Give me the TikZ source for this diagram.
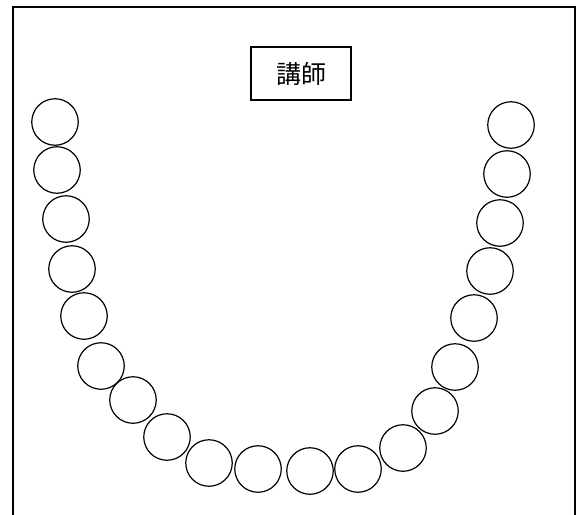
\documentclass[tikz,border=0pt]{standalone}
\usepackage{fontspec}
\newfontfamily\cjk{Noto Sans CJK JP}
\tikzset{
    seat/.style={circle, draw, line width=1.2pt, minimum size=46.5pt, inner sep=0pt},
    podium/.style={draw, line width=1.2pt, minimum width=100pt, minimum height=53pt, inner sep=0pt, font=\cjk\fontsize{25}{30}\selectfont}
}

\begin{document}
\begin{tikzpicture}[x=1pt, y=-1pt]
    \useasboundingbox (0,0) rectangle (577,514);
    \clip (0,0) rectangle (577,514);

    % room outline (open at the bottom)
    \draw[line width=2pt] (13,530) -- (13,7) -- (575,7) -- (575,530);

    % teacher
    \node[podium] (teacher) at (301,73.5) {講師};

    % seats in a U
    \foreach \x/\y [count=\i] in {55/122, 57/170, 66/219, 72/269, 84/316,
        101/366, 133/400, 167/437, 209/463, 258/469,
        310/471, 358/469, 403/448, 435/411, 455/367,
        474/318, 490/271, 500/223, 507/174, 511/125} {
        \node[seat] (s\i) at (\x,\y) {};
    }
\end{tikzpicture}
\end{document}
